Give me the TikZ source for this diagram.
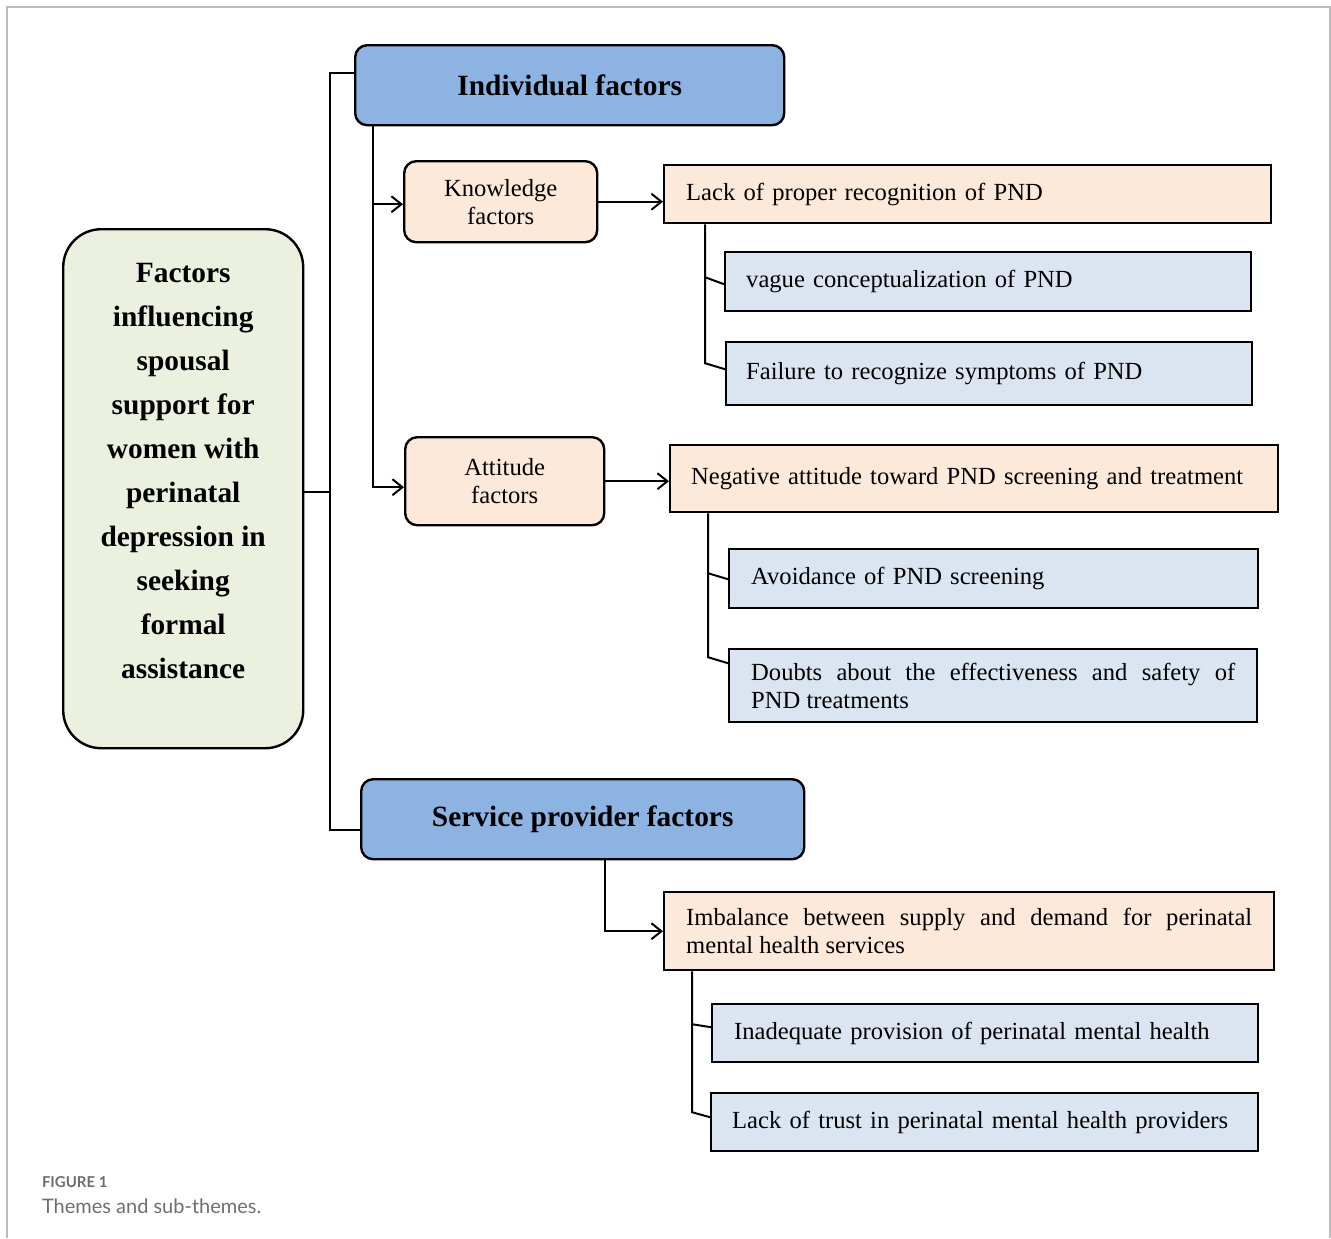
\documentclass[tikz,border=0pt]{standalone}
\usepackage{fontspec}
\setmainfont{Liberation Serif}
\newfontfamily\captionfont{Lato}
\usetikzlibrary{arrows.meta}
\definecolor{rootgreen}{HTML}{EBF1DE}
\definecolor{themeblue}{HTML}{8DB3E2}
\definecolor{catpeach}{HTML}{FDE9D9}
\definecolor{itemblue}{HTML}{DBE5F1}
\definecolor{framegray}{HTML}{BBBBBB}
\definecolor{captiongray}{HTML}{6E6E6E}

\begin{document}
\begin{tikzpicture}[x=0.5pt, y=-0.5pt, line width=1pt, >={Straight Barb[length=5pt, width=8pt]},
    box/.style={draw, line width=1.2pt, inner sep=0pt},
    rootbox/.style={box, rounded corners=19pt, fill=rootgreen, minimum width=120pt, minimum height=259.5pt},
    themebox/.style={box, rounded corners=6pt, fill=themeblue, minimum height=40pt, font=\fontsize{14.7}{22}\selectfont\bfseries},
    catbox/.style={box, rounded corners=6pt, fill=catpeach, align=center, font=\fontsize{12.3}{14}\selectfont},
    subbox/.style={box, anchor=north west, inner xsep=11pt, align=left, font=\fontsize{12.3}{14}\selectfont},
    topic/.style={subbox, fill=catpeach},
    item/.style={subbox, fill=itemblue}]
    \useasboundingbox (0,0) rectangle (1331,1238);
    \draw[framegray, line width=0.8pt] (7,1238) -- (7,7) -- (1330,7) -- (1330,1238);

    % Define nodes
    \node[rootbox, anchor=north west, label={[align=center, yshift=9pt, font=\fontsize{14.7}{22}\selectfont\bfseries]center:{Factors\\influencing\\spousal\\support for\\women with\\perinatal\\depression in\\seeking\\formal\\assistance}}] (root) at (62,228) {};
    \node[themebox, anchor=north west, minimum width=214.5pt] (indiv) at (354,44) {Individual factors};
    \node[themebox, anchor=north west, minimum width=221.5pt] (service) at (360,778) {Service provider factors};
    \node[catbox, anchor=north west, minimum width=96.5pt, minimum height=40.5pt] (know) at (403,160) {Knowledge\\factors};
    \node[catbox, anchor=north west, minimum width=99.5pt, minimum height=44pt] (att) at (404,436) {Attitude\\factors};

    \node[topic, text width=281.5pt, minimum height=29pt] (lack) at (663,164) {Lack of proper recognition of PND};
    \node[item, inner xsep=10.5pt, text width=242pt, minimum height=29.5pt] (vague) at (724,251) {vague conceptualization of PND};
    \node[item, inner xsep=10pt, text width=243pt, minimum height=31.5pt] (fail) at (725,341) {Failure to recognize symptoms of PND};

    \node[topic, inner xsep=10.5pt, text width=283pt, minimum height=33.5pt] (neg) at (669,444) {Negative attitude toward PND screening and treatment};
    \node[item, text width=242.5pt, minimum height=29.5pt] (avoid) at (728,548) {Avoidance of PND screening};
    \node[item, text width=242pt, minimum height=36.5pt, align=justify] (doubts) at (728,648) {Doubts about the effectiveness and safety of\linebreak PND treatments};

    \node[topic, text width=283pt, minimum height=39pt, align=justify] (imb) at (663,891) {Imbalance between supply and demand for perinatal\linebreak mental health services};
    \node[item, text width=251pt, minimum height=29pt] (inad) at (711,1003) {Inadequate provision of perinatal mental health};
    \node[item, inner xsep=10.5pt, text width=252.5pt, minimum height=29pt] (trust) at (710,1092) {Lack of trust in perinatal mental health providers};

    \node[anchor=west, inner sep=0pt, text=captiongray, font=\captionfont\fontsize{7.5}{9}\selectfont\bfseries] (fig) at (41,1182) {FIGURE 1};
    \node[anchor=west, inner sep=0pt, text=captiongray, font=\captionfont\fontsize{10}{12}\selectfont] (cap) at (41,1206) {Themes and sub-themes.};

    % Draw connectors
    \coordinate (hub) at (330,492);
    \draw (root.east |- hub) -- (hub);
    \draw ([yshift=6pt]indiv.west) -| (hub) |- ([yshift=-5.5pt]service.west);

    \coordinate (ik) at ([xshift=9.5pt]indiv.south west);
    \draw[->] (ik) |- ([yshift=-1.25pt]know.west);
    \draw[->] (ik) |- ([yshift=-3pt]att.west);
    \draw[->] (know.east) -- (know.east -| lack.west);
    \draw[->] (att.east) -- (att.east -| neg.west);
    \draw[->] ([xshift=11pt]service.south) |- (imb.west);

    \coordinate (lk) at ([xshift=21pt]lack.south west);
    \draw (lk) -- ([yshift=5.25pt]lk |- fail.west) -- ([yshift=2.25pt]fail.west);
    \draw ([yshift=2.25pt]lk |- vague.west) -- ([yshift=-1.25pt]vague.west);

    \coordinate (nk) at ([xshift=19.5pt]neg.south west);
    \draw (nk) -- ([yshift=14.25pt]nk |- doubts.west) -- ([yshift=11.25pt]doubts.west);
    \draw ([yshift=2.75pt]nk |- avoid.west) -- ([yshift=-0.25pt]avoid.west);

    \coordinate (mk) at ([xshift=14.5pt]imb.south west);
    \draw (mk) -- ([yshift=5pt]mk |- trust.west) -- ([yshift=2.5pt]trust.west);
    \draw ([yshift=4.5pt]mk |- inad.west) -- ([yshift=3pt]inad.west);
\end{tikzpicture}
\end{document}
